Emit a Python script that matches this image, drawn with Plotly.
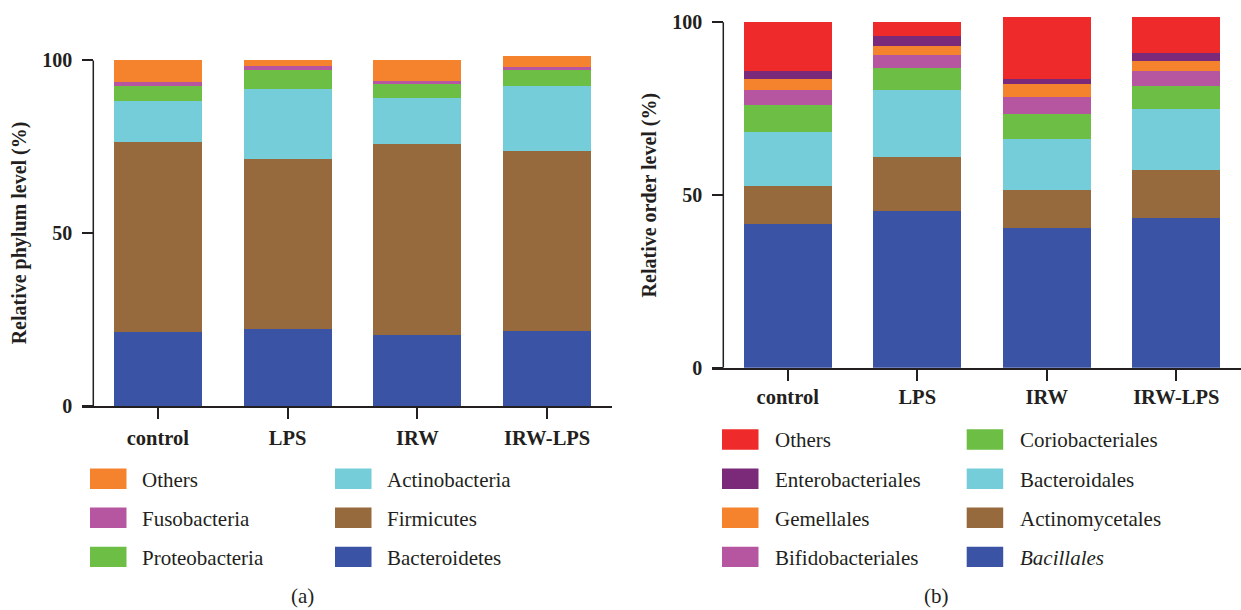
import plotly.graph_objects as go

groups = ["control", "LPS", "IRW", "IRW-LPS"]

# Panel (a): phylum level (%), bottom to top
phylum_names = ["Bacteroidetes", "Firmicutes", "Actinobacteria", "Proteobacteria", "Fusobacteria", "Others"]
bacteroidetes = [21.4, 22.4, 20.4, 21.6]
firmicutes = [54.9, 49.1, 55.5, 52.2]
actinobacteria = [12.1, 20.3, 13.1, 18.8]
proteobacteria = [4.3, 5.4, 4.1, 4.5]
fusobacteria = [1.0, 1.3, 0.9, 1.1]
others_a = [6.3, 1.5, 6.0, 3.2]
phylum_colors = ["#3A53A4", "#976A3E", "#74CDD8", "#6DBE45", "#B656A0", "#F5832E"]

# Panel (b): order level (%), bottom to top
order_names = ["Bacillales", "Actinomycetales", "Bacteroidales", "Coriobacteriales",
               "Bifidobacteriales", "Gemellales", "Enterobacteriales", "Others"]
bacillales = [41.5, 45.3, 40.5, 43.4]
actinomycetales = [11.2, 15.7, 11.0, 13.8]
bacteroidales = [15.5, 19.4, 14.8, 17.6]
coriobacteriales = [7.8, 6.4, 7.1, 6.9]
bifidobacteriales = [4.4, 3.7, 4.9, 4.1]
gemellales = [3.1, 2.7, 3.8, 3.1]
enterobacteriales = [2.3, 2.9, 1.5, 2.1]
others_b = [14.3, 3.9, 18.0, 10.6]
order_colors = ["#3A53A4", "#976A3E", "#74CDD8", "#6DBE45", "#B656A0", "#F5832E", "#7B2979", "#EE2B2A"]

y_ticks = [0, 50, 100]

phylum_values = [bacteroidetes, firmicutes, actinobacteria, proteobacteria, fusobacteria, others_a]
order_values = [bacillales, actinomycetales, bacteroidales, coriobacteriales,
                bifidobacteriales, gemellales, enterobacteriales, others_b]

W, H = 1241, 610
TXT = "#231f20"
SERIF = "Liberation Serif, Times New Roman, serif"

# vertical compensation (observed render mapping)
VS, VO = 0.976, 3.5

def px(x):
    return x / W

def py(y):
    fy = (y - VO) / VS
    return (H - fy) / H

fig = go.Figure()

for name, vals, col in zip(phylum_names, phylum_values, phylum_colors):
    fig.add_trace(go.Bar(x=groups, y=vals, name=name, marker=dict(color=col, line=dict(width=0)),
                         width=0.678, xaxis="x", yaxis="y", showlegend=False))
for name, vals, col in zip(order_names, order_values, order_colors):
    fig.add_trace(go.Bar(x=groups, y=vals, name=name, marker=dict(color=col, line=dict(width=0)),
                         width=0.678, xaxis="x2", yaxis="y2", showlegend=False))

xcommon = dict(type="category", range=[-0.587, 3.5], showline=True, linecolor=TXT, linewidth=1.5,
               ticks="outside", ticklen=11, tickwidth=1.5, tickcolor=TXT, showgrid=False,
               zeroline=False, fixedrange=True,
               tickfont=dict(family=SERIF, size=20.5, color=TXT, weight="bold"))
ycommon = dict(range=[0, 102], showline=False, ticks="outside", ticklen=11, tickwidth=1.5,
               tickcolor=TXT, showgrid=False, zeroline=False, tickvals=y_ticks,
               ticklabelstandoff=6, anchor="free", fixedrange=True,
               tickfont=dict(family=SERIF, size=20, color=TXT, weight="bold"))

ya_bot, ya_top = 405.7, 405.7 - 102 * 3.457
yb_bot, yb_top = 367.5, 367.5 - 102 * 3.457

fig.update_layout(
    width=W, height=H, margin=dict(l=0, r=0, t=0, b=0),
    paper_bgcolor="white", plot_bgcolor="white", barmode="stack", bargap=0.3,
    xaxis=dict(domain=[px(81.7), px(612)], anchor="y", ticklabelstandoff=2, **xcommon),
    yaxis=dict(domain=[py(ya_bot), py(ya_top)], position=px(93.3), **ycommon),
    xaxis2=dict(domain=[px(711.7), 1.0], anchor="y2", ticklabelstandoff=-1, **xcommon),
    yaxis2=dict(domain=[py(yb_bot), py(yb_top)], position=px(723.3), **ycommon),
    font=dict(family=SERIF, color=TXT),
)

# y-axis lines from 0 to 100
fig.add_shape(type="line", xref="paper", yref="y", x0=px(93.3), x1=px(93.3), y0=0, y1=100,
              line=dict(color=TXT, width=1.5))
fig.add_shape(type="line", xref="paper", yref="y2", x0=px(723.3), x1=px(723.3), y0=0, y1=100,
              line=dict(color=TXT, width=1.5))

# y-axis titles
fig.add_annotation(text="<b>Relative phylum level (%)</b>", xref="paper", yref="paper",
                   x=px(19), y=py(233), textangle=-90, showarrow=False,
                   font=dict(family=SERIF, size=20, color=TXT), xanchor="center", yanchor="middle")
fig.add_annotation(text="<b>Relative order level (%)</b>", xref="paper", yref="paper",
                   x=px(649), y=py(195), textangle=-90, showarrow=False,
                   font=dict(family=SERIF, size=20, color=TXT), xanchor="center", yanchor="middle")

def legend_item(name, color, sx, tx, cy, italic=False):
    fig.add_shape(type="rect", xref="paper", yref="paper", x0=px(sx), x1=px(sx + 36.5),
                  y0=py(cy + 10.2), y1=py(cy - 10.2), fillcolor=color, line=dict(width=0))
    label = f"<i>{name}</i>" if italic else name
    fig.add_annotation(text=label, xref="paper", yref="paper", x=px(tx), y=py(cy + 1),
                       xanchor="left", yanchor="middle", showarrow=False,
                       font=dict(family=SERIF, size=21, color=TXT))

# Legend (a)
col = dict(zip(phylum_names, phylum_colors))
rows_a = [478.5, 517.5, 556.7]
for n, cy in zip(["Others", "Fusobacteria", "Proteobacteria"], rows_a):
    legend_item(n, col[n], 90, 140, cy)
for n, cy in zip(["Actinobacteria", "Firmicutes", "Bacteroidetes"], rows_a):
    legend_item(n, col[n], 335, 385, cy)

# Legend (b)
colb = dict(zip(order_names, order_colors))
rows_b = [439.2, 478.5, 517.5, 556.7]
for n, cy in zip(["Others", "Enterobacteriales", "Gemellales", "Bifidobacteriales"], rows_b):
    legend_item(n, colb[n], 722, 773, cy)
for n, cy in zip(["Coriobacteriales", "Bacteroidales", "Actinomycetales", "Bacillales"], rows_b):
    legend_item(n, colb[n], 966.7, 1017.7, cy, italic=(n == "Bacillales"))

fig.add_annotation(text="(a)", xref="paper", yref="paper", x=px(302.5), y=py(596),
                   showarrow=False, font=dict(family=SERIF, size=21, color=TXT),
                   xanchor="center", yanchor="middle")
fig.add_annotation(text="(b)", xref="paper", yref="paper", x=px(936), y=py(596),
                   showarrow=False, font=dict(family=SERIF, size=21, color=TXT),
                   xanchor="center", yanchor="middle")

fig.write_html("out.html", config={"displayModeBar": False},
               post_script="document.body.style.margin='0';document.body.style.overflow='hidden';")
